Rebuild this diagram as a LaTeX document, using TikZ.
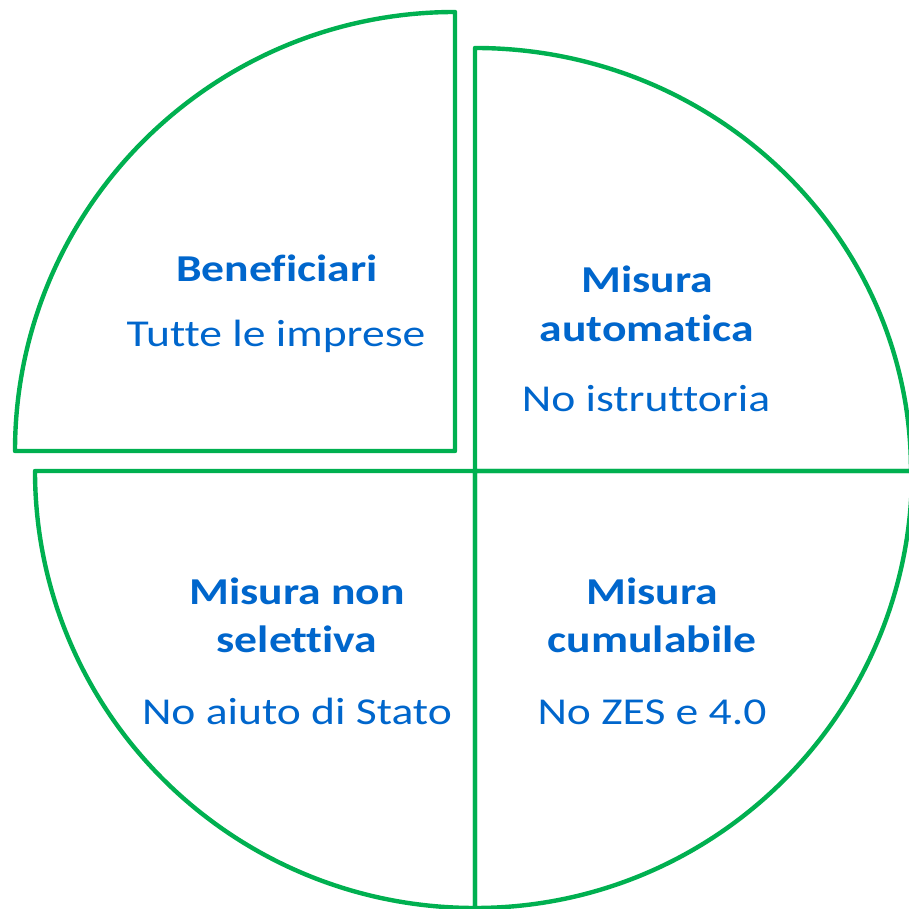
\documentclass[tikz,border=0pt]{standalone}
\usepackage{fontspec}
\setmainfont[FakeStretch=1.2,Ligatures={NoCommon,NoRequired,NoContextual}]{Carlito}
\definecolor{pgreen}{HTML}{00B050}
\definecolor{pblue}{HTML}{0066CC}
\begin{document}
\begin{tikzpicture}[x=1pt,y=1pt,
  sector/.style={draw=pgreen,line width=4.4pt,line join=round},
  head/.style={anchor=base,text=pblue,font=\fontsize{38}{44}\selectfont\bfseries,inner sep=0pt},
  body/.style={anchor=base,text=pblue,font=\fontsize{38}{44}\selectfont,inner sep=0pt}]
\useasboundingbox (0,0) rectangle (908,909);
% top-left sector
\draw[sector] (455,458) -- (15,458) arc[start angle=180,end angle=90,x radius=440pt,y radius=439pt] -- cycle;
% top-right sector
\draw[sector] (475,438) -- (911,438) arc[start angle=0,end angle=90,x radius=436pt,y radius=423pt] -- cycle;
% bottom-left sector
\draw[sector] (475,438) -- (475,1) arc[start angle=270,end angle=180,x radius=440pt,y radius=437pt] -- cycle;
% bottom-right sector
\draw[sector] (475,438) -- (912,438) arc[start angle=0,end angle=-90,x radius=437pt,y radius=437pt] -- cycle;
% texts
\node[head] (b1) at (277,627) {Beneficiari};
\node[body] (b2) at (276,562) {Tutte le imprese};
\node[head] (a1) at (647,616) {Misura};
\node[head] (a2) at (647,567) {automatica};
\node[body] (a3) at (646,497) {No istruttoria};
\node[head] (s1) at (297,304) {Misura non};
\node[head] (s2) at (297,256) {selettiva};
\node[body] (s3) at (297,184) {No aiuto di Stato};
\node[head] (c1) at (652,304) {Misura};
\node[head] (c2) at (652,256) {cumulabile};
\node[body] (c3) at (652,184) {No ZES e 4.0};
\end{tikzpicture}
\end{document}
